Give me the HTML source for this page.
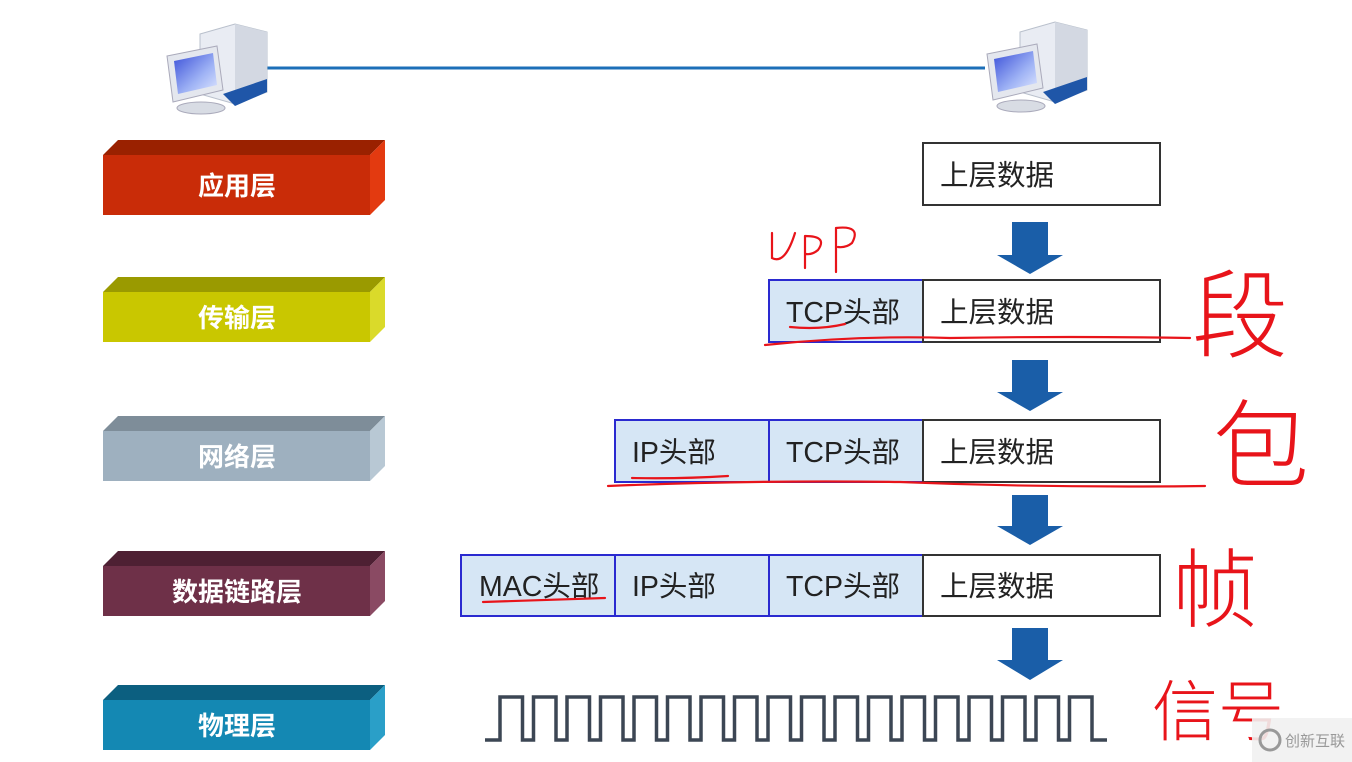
<!DOCTYPE html>
<html><head><meta charset="utf-8"><style>
html,body{margin:0;padding:0;background:#fff;}
svg{display:block;}
.lt{font-family:"Liberation Sans","Noto Sans CJK SC",sans-serif;font-weight:bold;font-size:26px;fill:#fff;text-anchor:middle;}
.bt{font-family:"Liberation Sans","Noto Sans CJK SC",sans-serif;font-size:28.5px;fill:#222;}
.hw{font-family:"Noto Sans CJK SC",sans-serif;font-weight:300;fill:#e8141a;}
</style></head><body>
<svg width="1352" height="762" viewBox="0 0 1352 762" xmlns="http://www.w3.org/2000/svg">
<defs>
<linearGradient id="scr" x1="0" y1="0" x2="1" y2="1"><stop offset="0" stop-color="#3a4fd8"/><stop offset="0.6" stop-color="#9fb3f5"/><stop offset="1" stop-color="#dfe7ff"/></linearGradient>
<g id="pc">
<path d="M35 10 L70 0 L102 8 L102 68 L70 80 L35 70 Z" fill="#e9ecf3" stroke="#b9c0cc"/>
<path d="M70 0 L102 8 L102 68 L70 80 Z" fill="#d3d8e2"/>
<path d="M58 70 L102 55 L102 68 L70 82 Z" fill="#1f56a8"/>
<path d="M2 32 L52 22 L58 66 L8 78 Z" fill="#e4e7ee" stroke="#aab"/>
<path d="M9 37 L48 29 L52 61 L13 70 Z" fill="url(#scr)"/>
<ellipse cx="36" cy="84" rx="24" ry="6" fill="#d8dce4" stroke="#aab"/>
</g>
</defs>
<line x1="265" y1="68" x2="985" y2="68" stroke="#1c6fb8" stroke-width="3"/>
<use href="#pc" x="165" y="24"/>
<use href="#pc" x="985" y="22"/>

<g>
<path d="M103 155 L118 140 L385 140 L370 155 Z" fill="#9a2100"/>
<path d="M370 155 L385 140 L385 200 L370 215 Z" fill="#e33a10"/>
<rect x="103" y="155" width="267" height="60" fill="#c92c08"/>
<text class="lt" x="237" y="195">应用层</text>

<path d="M103 292 L118 277 L385 277 L370 292 Z" fill="#9a9a00"/>
<path d="M370 292 L385 277 L385 327 L370 342 Z" fill="#dada2a"/>
<rect x="103" y="292" width="267" height="50" fill="#c9c700"/>
<text class="lt" x="237" y="327">传输层</text>

<path d="M103 431 L118 416 L385 416 L370 431 Z" fill="#7e8d99"/>
<path d="M370 431 L385 416 L385 466 L370 481 Z" fill="#b8c8d4"/>
<rect x="103" y="431" width="267" height="50" fill="#9eb0bf"/>
<text class="lt" x="237" y="466">网络层</text>

<path d="M103 566 L118 551 L385 551 L370 566 Z" fill="#4e2033"/>
<path d="M370 566 L385 551 L385 601 L370 616 Z" fill="#8a4a63"/>
<rect x="103" y="566" width="267" height="50" fill="#6e3048"/>
<text class="lt" x="237" y="601">数据链路层</text>

<path d="M103 700 L118 685 L385 685 L370 700 Z" fill="#0c5f80"/>
<path d="M370 700 L385 685 L385 735 L370 750 Z" fill="#2a9fc8"/>
<rect x="103" y="700" width="267" height="50" fill="#1488b3"/>
<text class="lt" x="237" y="735">物理层</text>
</g>

<g stroke-width="2">
<rect x="923" y="143" width="237" height="62" fill="#fff" stroke="#333"/>
<text class="bt" x="940" y="185">上层数据</text>

<rect x="769" y="280" width="154" height="62" fill="#d6e6f5" stroke="#2a2ad0"/>
<rect x="923" y="280" width="237" height="62" fill="#fff" stroke="#333"/>
<text class="bt" x="786" y="322">TCP头部</text>
<text class="bt" x="940" y="322">上层数据</text>

<rect x="615" y="420" width="154" height="62" fill="#d6e6f5" stroke="#2a2ad0"/>
<rect x="769" y="420" width="154" height="62" fill="#d6e6f5" stroke="#2a2ad0"/>
<rect x="923" y="420" width="237" height="62" fill="#fff" stroke="#333"/>
<text class="bt" x="632" y="462">IP头部</text>
<text class="bt" x="786" y="462">TCP头部</text>
<text class="bt" x="940" y="462">上层数据</text>

<rect x="461" y="555" width="154" height="61" fill="#d6e6f5" stroke="#2a2ad0"/>
<rect x="615" y="555" width="154" height="61" fill="#d6e6f5" stroke="#2a2ad0"/>
<rect x="769" y="555" width="154" height="61" fill="#d6e6f5" stroke="#2a2ad0"/>
<rect x="923" y="555" width="237" height="61" fill="#fff" stroke="#333"/>
<text class="bt" x="479" y="596">MAC头部</text>
<text class="bt" x="632" y="596">IP头部</text>
<text class="bt" x="786" y="596">TCP头部</text>
<text class="bt" x="940" y="596">上层数据</text>
</g>

<g fill="#1a5ea8">
<path d="M1012 222 H1048 V255 H1063 L1030 274 L997 255 H1012 Z"/>
<path d="M1012 360 H1048 V392 H1063 L1030 411 L997 392 H1012 Z"/>
<path d="M1012 495 H1048 V526 H1063 L1030 545 L997 526 H1012 Z"/>
<path d="M1012 628 H1048 V660 H1063 L1030 680 L997 660 H1012 Z"/>
</g>

<path d="M485 740 H500 v-43 h22.5 v43 h11 v-43 h22.5 v43 h11 v-43 h22.5 v43 h11 v-43 h22.5 v43 h11 v-43 h22.5 v43 h11 v-43 h22.5 v43 h11 v-43 h22.5 v43 h11 v-43 h22.5 v43 h11 v-43 h22.5 v43 h11 v-43 h22.5 v43 h11 v-43 h22.5 v43 h11 v-43 h22.5 v43 h11 v-43 h22.5 v43 h11 v-43 h22.5 v43 h11 v-43 h22.5 v43 h11 v-43 h22.5 v43 h11 v-43 h22.5 v43 h11 v-43 h22.5 v43 h15" fill="none" stroke="#3c4654" stroke-width="3.5"/>

<g fill="none" stroke="#e8141a" stroke-width="2.2" stroke-linecap="round">
<path d="M772 233 V258 Q785 265 795 233"/>
<path d="M805 236 V268 M805 236 Q828 236 818 250 Q812 255 806 254"/>
<path d="M836 228 V272 M836 228 Q862 225 852 243 Q846 248 838 247"/>
<path d="M790 327 Q820 330 845 324"/>
<path d="M765 345 Q860 335 950 338 Q1070 336 1190 338"/>
<path d="M632 478 Q680 479 728 476"/>
<path d="M608 486 Q750 480 900 482 Q1050 488 1205 486"/>
<path d="M483 602 Q540 600 605 598"/>
</g>
<text class="hw" x="1192" y="350" font-size="96">段</text>
<text class="hw" x="1213" y="480" font-size="96">包</text>
<text class="hw" x="1172" y="620" font-size="86">帧</text>
<text class="hw" x="1152" y="735" font-size="66">信号</text>

<rect x="1252" y="718" width="100" height="44" fill="#f1f1f1" opacity="0.9"/>
<circle cx="1270" cy="740" r="10" fill="none" stroke="#999" stroke-width="3"/>
<text x="1285" y="746" font-family="Noto Sans CJK SC,sans-serif" font-size="15" fill="#999">创新互联</text>
</svg>
</body></html>
